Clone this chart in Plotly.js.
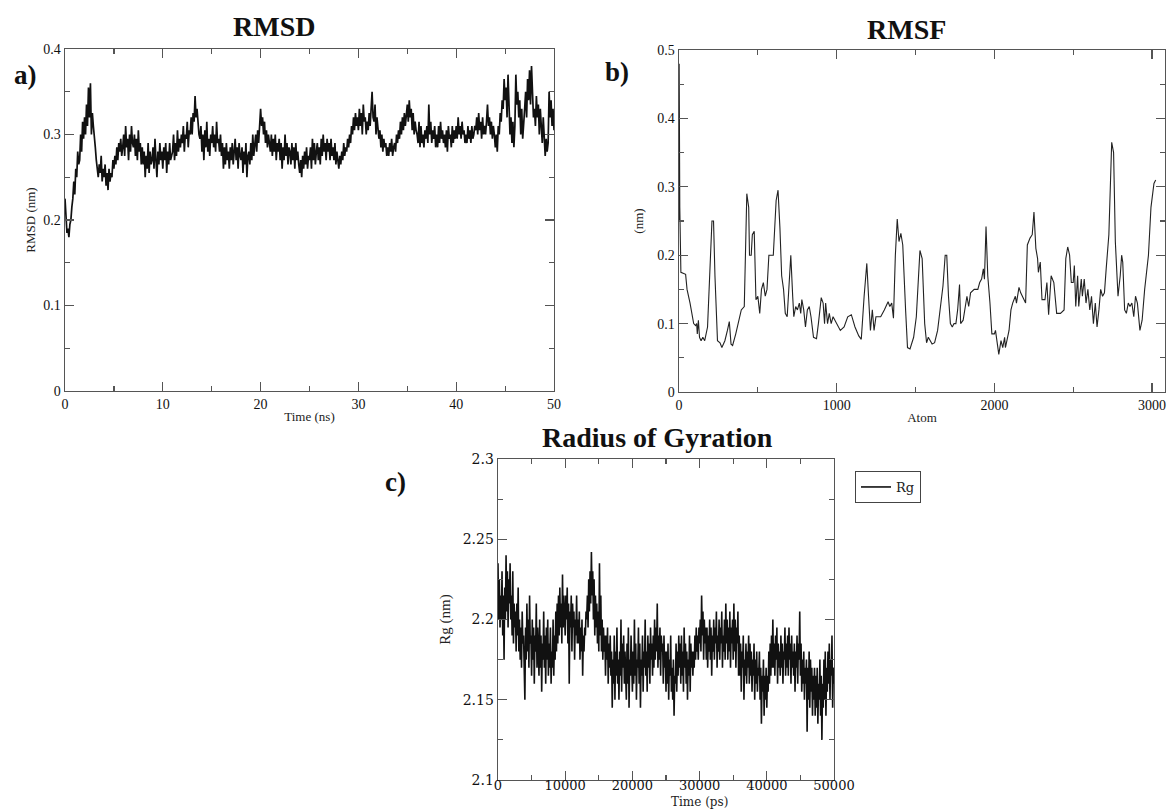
<!DOCTYPE html>
<html>
<head>
<meta charset="utf-8">
<script src="https://cdn.plot.ly/plotly-3.0.1.min.js"></script>
<style>
  html, body { margin: 0; padding: 0; background: #ffffff; }
  #chart { width: 1167px; height: 810px; }
</style>
</head>
<body>
<div id="chart"></div>
<script>
// ---------------- DATA ----------------
// a) RMSD (nm) sampled every 0.1 ns from 0 to 50 ns
const rmsdStepNs = 0.1;
const rmsdValues = [
  0.225,0.20,0.185,0.19,0.18,0.195,0.20,0.215,0.225,0.245,
  0.23,0.26,0.25,0.28,0.265,0.27,0.30,0.28,0.315,0.295,
  0.32,0.30,0.335,0.31,0.355,0.32,0.36,0.30,0.325,0.31,
  0.30,0.285,0.27,0.26,0.25,0.265,0.255,0.275,0.245,0.26,
  0.25,0.265,0.24,0.255,0.235,0.26,0.245,0.255,0.25,0.27,
  0.26,0.275,0.265,0.285,0.27,0.29,0.28,0.295,0.275,0.285,
  0.30,0.275,0.31,0.285,0.295,0.27,0.30,0.28,0.31,0.29,
  0.285,0.30,0.275,0.295,0.27,0.305,0.28,0.29,0.265,0.285,
  0.265,0.28,0.25,0.275,0.26,0.29,0.255,0.28,0.265,0.27,
  0.285,0.26,0.295,0.27,0.25,0.28,0.265,0.29,0.27,0.28,
  0.26,0.285,0.27,0.29,0.255,0.28,0.265,0.29,0.27,0.275,
  0.28,0.30,0.27,0.29,0.275,0.305,0.28,0.295,0.285,0.30,
  0.29,0.31,0.28,0.30,0.295,0.315,0.285,0.305,0.30,0.32,
  0.30,0.325,0.315,0.345,0.32,0.33,0.31,0.30,0.295,0.31,
  0.28,0.30,0.27,0.305,0.285,0.315,0.28,0.295,0.275,0.30,
  0.29,0.31,0.285,0.30,0.28,0.315,0.29,0.295,0.28,0.30,
  0.275,0.29,0.26,0.285,0.265,0.29,0.27,0.28,0.26,0.285,
  0.27,0.29,0.265,0.28,0.295,0.27,0.285,0.26,0.29,0.275,
  0.27,0.285,0.255,0.28,0.265,0.29,0.25,0.275,0.28,0.265,
  0.29,0.27,0.30,0.275,0.285,0.30,0.28,0.305,0.29,0.31,
  0.33,0.31,0.32,0.30,0.315,0.29,0.305,0.285,0.30,0.29,
  0.28,0.30,0.275,0.295,0.28,0.30,0.27,0.29,0.28,0.295,
  0.27,0.29,0.26,0.285,0.27,0.30,0.275,0.29,0.265,0.285,
  0.28,0.265,0.29,0.27,0.285,0.26,0.29,0.27,0.28,0.265,
  0.255,0.27,0.25,0.275,0.26,0.28,0.265,0.285,0.26,0.275,
  0.27,0.285,0.26,0.295,0.27,0.29,0.265,0.28,0.29,0.27,
  0.285,0.265,0.295,0.275,0.30,0.28,0.29,0.27,0.295,0.28,
  0.29,0.27,0.295,0.275,0.285,0.27,0.29,0.265,0.28,0.27,
  0.26,0.275,0.265,0.28,0.27,0.29,0.275,0.285,0.28,0.295,
  0.285,0.30,0.29,0.31,0.30,0.32,0.305,0.325,0.31,0.32,
  0.305,0.33,0.31,0.325,0.30,0.335,0.315,0.32,0.30,0.315,
  0.305,0.325,0.31,0.33,0.35,0.32,0.315,0.335,0.30,0.32,
  0.31,0.295,0.305,0.285,0.30,0.28,0.295,0.285,0.29,0.275,
  0.285,0.275,0.29,0.28,0.295,0.275,0.285,0.29,0.28,0.30,
  0.29,0.305,0.295,0.315,0.30,0.32,0.305,0.325,0.31,0.32,
  0.335,0.315,0.34,0.32,0.33,0.305,0.325,0.30,0.315,0.305,
  0.30,0.29,0.315,0.285,0.31,0.29,0.30,0.285,0.305,0.295,
  0.31,0.29,0.335,0.30,0.315,0.29,0.305,0.295,0.31,0.285,
  0.30,0.285,0.31,0.29,0.315,0.295,0.305,0.29,0.30,0.285,
  0.305,0.28,0.31,0.295,0.30,0.285,0.31,0.29,0.305,0.295,
  0.31,0.295,0.32,0.30,0.31,0.295,0.315,0.30,0.305,0.29,
  0.30,0.29,0.31,0.295,0.305,0.29,0.31,0.295,0.30,0.31,
  0.305,0.32,0.30,0.325,0.305,0.315,0.295,0.32,0.30,0.31,
  0.30,0.315,0.335,0.31,0.32,0.30,0.315,0.295,0.31,0.30,
  0.285,0.30,0.28,0.31,0.30,0.325,0.315,0.34,0.33,0.365,
  0.34,0.355,0.32,0.37,0.33,0.30,0.32,0.29,0.315,0.285,
  0.31,0.37,0.335,0.35,0.32,0.34,0.30,0.33,0.295,0.32,
  0.33,0.35,0.32,0.365,0.34,0.375,0.335,0.38,0.35,0.32,
  0.33,0.31,0.345,0.32,0.335,0.30,0.33,0.31,0.29,0.32,
  0.285,0.275,0.295,0.28,0.29,0.35,0.32,0.34,0.31,0.33,
  0.305
];

// b) RMSF (nm) per atom
const rmsfAtoms = [
  0,1,5,12,42,51,70,81,93,105,112,116,123,130,140,151,163,181,198,209,219,228,
  244,260,272,291,307,319,330,340,360,395,414,430,442,447,458,465,477,488,500,
  512,523,535,547,558,570,586,598,616,628,640,651,663,674,686,698,709,721,728,
  740,751,763,772,779,791,802,814,826,837,853,872,884,902,914,923,930,942,953,
  965,977,1000,1023,1047,1070,1093,1116,1140,1156,1174,1191,1202,1214,1226,1237,
  1249,1279,1302,1326,1337,1349,1360,1372,1384,1395,1407,1419,1437,1449,1465,
  1488,1505,1516,1528,1542,1558,1570,1581,1605,1621,1640,1663,1674,1688,1698,
  1709,1721,1733,1744,1756,1767,1779,1786,1802,1814,1826,1837,1849,1872,1895,
  1907,1919,1930,1937,1947,1958,1972,1984,2000,2007,2019,2028,2042,2053,2065,
  2070,2093,2105,2116,2133,2140,2156,2167,2186,2198,2209,2226,2240,2251,2263,
  2274,2279,2291,2302,2321,2333,2344,2360,2377,2395,2419,2442,2453,2465,2477,
  2488,2500,2507,2516,2528,2535,2551,2558,2570,2581,2593,2605,2616,2628,2640,
  2651,2663,2674,2686,2698,2709,2726,2744,2756,2767,2784,2798,2807,2814,2826,
  2837,2849,2860,2872,2884,2895,2907,2923,2937,2953,2977,2993,3012,3023
];
const rmsfValues = [
  0.25,0.48,0.27,0.175,0.172,0.15,0.13,0.115,0.10,0.097,0.10,0.085,0.105,0.08,0.075,0.08,0.075,0.095,0.20,0.25,0.25,0.17,
  0.075,0.072,0.065,0.075,0.09,0.103,0.07,0.068,0.085,0.12,0.125,0.29,0.27,0.20,0.20,0.23,0.235,0.135,0.14,
  0.115,0.15,0.16,0.14,0.15,0.20,0.20,0.20,0.28,0.295,0.24,0.17,0.15,0.115,0.11,0.155,0.20,0.14,0.11,
  0.125,0.12,0.13,0.115,0.135,0.12,0.095,0.12,0.125,0.11,0.08,0.078,0.10,0.138,0.13,0.10,0.13,0.10,0.115,
  0.10,0.11,0.10,0.09,0.095,0.11,0.113,0.095,0.082,0.077,0.14,0.188,0.14,0.09,0.12,0.09,
  0.11,0.11,0.12,0.132,0.125,0.13,0.108,0.20,0.253,0.22,0.232,0.215,0.12,0.065,0.063,
  0.08,0.11,0.16,0.207,0.195,0.10,0.072,0.08,0.07,0.072,0.09,0.13,0.155,0.20,0.20,
  0.14,0.10,0.095,0.10,0.10,0.12,0.157,0.10,0.105,0.12,0.14,0.125,0.145,0.15,0.15,
  0.16,0.165,0.18,0.165,0.242,0.17,0.13,0.085,0.085,0.09,0.07,0.055,0.075,0.065,0.08,
  0.065,0.09,0.12,0.13,0.14,0.13,0.153,0.145,0.135,0.13,0.215,0.225,0.23,0.263,0.21,
  0.195,0.175,0.19,0.135,0.135,0.16,0.113,0.17,0.16,0.115,0.115,0.12,0.195,0.212,0.20,
  0.16,0.16,0.185,0.125,0.17,0.125,0.165,0.14,0.165,0.13,0.15,0.12,0.14,0.10,0.13,
  0.095,0.12,0.15,0.14,0.145,0.18,0.23,0.365,0.35,0.22,0.14,0.17,0.20,0.19,0.12,
  0.115,0.13,0.125,0.13,0.11,0.14,0.13,0.09,0.105,0.15,0.20,0.27,0.305,0.31
];

// c) Radius of gyration (nm) sampled every 100 ps from 0 to 50000 ps
const rgStepPs = 100;
const rgValues = [
  2.235,2.20,2.225,2.195,2.215,2.20,2.23,2.19,2.215,2.175,
  2.22,2.20,2.24,2.205,2.23,2.195,2.225,2.21,2.235,2.20,
  2.215,2.19,2.23,2.185,2.21,2.195,2.205,2.18,2.21,2.19,
  2.22,2.18,2.20,2.175,2.195,2.17,2.205,2.185,2.19,2.165,
  2.15,2.195,2.175,2.21,2.18,2.20,2.17,2.215,2.185,2.19,
  2.165,2.20,2.175,2.195,2.16,2.19,2.18,2.21,2.17,2.195,
  2.18,2.165,2.20,2.17,2.19,2.155,2.185,2.175,2.205,2.17,
  2.19,2.16,2.195,2.175,2.20,2.165,2.185,2.17,2.195,2.16,
  2.18,2.17,2.20,2.165,2.19,2.175,2.205,2.18,2.21,2.185,
  2.215,2.19,2.22,2.195,2.21,2.185,2.228,2.195,2.215,2.20,
  2.19,2.215,2.20,2.22,2.185,2.21,2.16,2.205,2.195,2.215,
  2.18,2.21,2.195,2.205,2.175,2.20,2.19,2.215,2.185,2.20,
  2.185,2.205,2.175,2.195,2.18,2.20,2.165,2.19,2.18,2.195,
  2.19,2.205,2.20,2.215,2.195,2.225,2.205,2.23,2.21,2.242,
  2.215,2.23,2.20,2.225,2.19,2.215,2.195,2.21,2.185,2.205,
  2.18,2.235,2.19,2.215,2.18,2.20,2.175,2.195,2.18,2.19,
  2.165,2.19,2.175,2.195,2.16,2.185,2.17,2.19,2.165,2.18,
  2.145,2.175,2.16,2.19,2.15,2.18,2.165,2.195,2.16,2.175,
  2.15,2.18,2.165,2.20,2.155,2.185,2.17,2.19,2.16,2.18,
  2.165,2.15,2.185,2.16,2.195,2.145,2.175,2.165,2.19,2.17,
  2.155,2.18,2.16,2.20,2.165,2.185,2.15,2.175,2.17,2.195,
  2.16,2.185,2.145,2.175,2.165,2.19,2.155,2.18,2.17,2.20,
  2.165,2.18,2.155,2.19,2.17,2.185,2.16,2.195,2.175,2.185,
  2.165,2.19,2.17,2.20,2.175,2.195,2.18,2.21,2.17,2.19,
  2.175,2.195,2.165,2.19,2.18,2.185,2.16,2.19,2.17,2.18,
  2.155,2.18,2.16,2.185,2.15,2.175,2.165,2.19,2.155,2.17,
  2.15,2.175,2.14,2.165,2.16,2.185,2.155,2.18,2.165,2.19,
  2.17,2.185,2.16,2.19,2.165,2.18,2.155,2.195,2.17,2.185,
  2.16,2.18,2.15,2.175,2.165,2.19,2.155,2.185,2.17,2.18,
  2.165,2.18,2.17,2.19,2.175,2.195,2.18,2.19,2.175,2.195,
  2.185,2.20,2.18,2.215,2.19,2.205,2.175,2.20,2.185,2.195,
  2.175,2.195,2.17,2.19,2.18,2.20,2.175,2.195,2.165,2.19,
  2.18,2.20,2.175,2.195,2.185,2.205,2.17,2.19,2.18,2.20,
  2.175,2.195,2.185,2.205,2.17,2.19,2.18,2.20,2.175,2.21,
  2.185,2.20,2.175,2.195,2.18,2.205,2.17,2.195,2.185,2.20,
  2.175,2.21,2.18,2.20,2.17,2.195,2.185,2.205,2.165,2.19,
  2.165,2.185,2.155,2.18,2.17,2.19,2.15,2.175,2.165,2.185,
  2.16,2.18,2.17,2.19,2.16,2.185,2.165,2.18,2.155,2.175,
  2.165,2.185,2.15,2.175,2.16,2.18,2.155,2.17,2.165,2.18,
  2.15,2.17,2.135,2.165,2.155,2.175,2.14,2.165,2.15,2.17,
  2.145,2.165,2.155,2.18,2.16,2.185,2.165,2.19,2.17,2.20,
  2.17,2.185,2.165,2.19,2.175,2.195,2.16,2.185,2.17,2.18,
  2.165,2.19,2.17,2.185,2.16,2.18,2.175,2.195,2.165,2.185,
  2.17,2.19,2.165,2.195,2.175,2.185,2.16,2.19,2.17,2.18,
  2.165,2.185,2.155,2.18,2.17,2.19,2.16,2.185,2.175,2.205,
  2.165,2.185,2.155,2.175,2.16,2.18,2.15,2.17,2.16,2.175,
  2.13,2.17,2.15,2.18,2.145,2.175,2.155,2.17,2.14,2.165,
  2.15,2.17,2.14,2.165,2.145,2.17,2.135,2.16,2.15,2.175,
  2.14,2.165,2.125,2.16,2.145,2.175,2.15,2.18,2.14,2.17,
  2.155,2.18,2.16,2.185,2.15,2.175,2.165,2.19,2.145,2.17,
  2.16
];

// tick labels / titles
const panelTitles = ["RMSD", "RMSF", "Radius of Gyration"];
const panelLetters = ["a)", "b)", "c)"];
const legendName = "Rg";

// ---------------- BUILD ----------------
const rmsdTime = rmsdValues.map((_, i) => +(i * rmsdStepNs).toFixed(2));
const rgTime = rgValues.map((_, i) => i * rgStepPs);

const W = 1167, H = 810;
const px = v => v / W;
const py = v => 1 - v / H;

const lineCol = '#111111';
const axCol = '#555555';
const serif = 'Liberation Serif, Times New Roman, serif';
const dejavu = 'DejaVu Serif, serif';

function axis(opts) {
  return Object.assign({
    showline: true, mirror: 'allticks', linecolor: axCol, linewidth: 1.4,
    ticks: 'inside', ticklen: 9, tickwidth: 1.3, tickcolor: axCol,
    showgrid: false, zeroline: false, fixedrange: true,
    tickfont: { family: serif, size: 14, color: '#111' }
  }, opts);
}

const traces = [
  { x: rmsdTime, y: rmsdValues, xaxis: 'x', yaxis: 'y', type: 'scatter', mode: 'lines',
    line: { color: lineCol, width: 1.7 }, showlegend: false, name: 'RMSD' },
  { x: rmsfAtoms, y: rmsfValues, xaxis: 'x2', yaxis: 'y2', type: 'scatter', mode: 'lines',
    line: { color: '#222', width: 1.1 }, showlegend: false, name: 'RMSF' },
  { x: rgTime, y: rgValues, xaxis: 'x3', yaxis: 'y3', type: 'scatter', mode: 'lines',
    line: { color: lineCol, width: 1.6 }, showlegend: true, name: legendName }
];

const minorSmall = (d) => ({ dtick: d, ticks: 'inside', ticklen: 5, tickwidth: 1.2, tickcolor: axCol, showgrid: false });

const layout = {
  width: W, height: H, autosize: false,
  margin: { l: 0, r: 0, t: 0, b: 0, pad: 0 },
  paper_bgcolor: '#ffffff', plot_bgcolor: '#ffffff',
  font: { family: serif, color: '#222' },
  showlegend: true,
  legend: {
    x: px(855), y: py(471), xanchor: 'left', yanchor: 'top',
    bordercolor: '#444', borderwidth: 1, bgcolor: '#ffffff',
    font: { family: dejavu, size: 13, color: '#222' },
    itemwidth: 30, tracegroupgap: 0
  },
  xaxis: axis({ domain: [px(65), px(554)], range: [0, 50], dtick: 10, anchor: 'y',
    minor: minorSmall(5),
    title: { text: 'Time (ns)', font: { family: serif, size: 13, color: '#222' }, standoff: 0 } }),
  yaxis: axis({ domain: [py(391), py(49)], range: [0, 0.4], dtick: 0.1, anchor: 'x',
    minor: minorSmall(0.05),
    title: { text: 'RMSD (nm)', font: { family: serif, size: 13, color: '#222' }, standoff: 4 } }),
  xaxis2: axis({ domain: [px(679), px(1165)], range: [0, 3082], dtick: 1000, anchor: 'y2',
    minor: minorSmall(500),
    title: { text: 'Atom', font: { family: serif, size: 13, color: '#222' }, standoff: 0 } }),
  yaxis2: axis({ domain: [py(392), py(50)], range: [0, 0.5], dtick: 0.1, anchor: 'x2',
    minor: minorSmall(0.05),
    title: { text: '(nm)', font: { family: serif, size: 13, color: '#222' }, standoff: 10 } }),
  xaxis3: axis({ domain: [px(498), px(834)], range: [0, 50000], dtick: 10000, anchor: 'y3',
    tickformat: 'd', exponentformat: 'none', separatethousands: false, ticklabelstandoff: -7,
    minor: minorSmall(5000), tickfont: { family: dejavu, size: 13, color: '#111' } }),
  yaxis3: axis({ domain: [py(780), py(459)], range: [2.1, 2.3], dtick: 0.05, anchor: 'x3',
    minor: minorSmall(0.025), tickfont: { family: dejavu, size: 14, color: '#111' },
    title: { text: 'Rg (nm)', font: { family: serif, size: 15, color: '#222' }, standoff: 8 } }),
  annotations: [
    { text: '<b>' + panelTitles[0] + '</b>', x: px(274), y: py(27), xref: 'paper', yref: 'paper',
      xanchor: 'center', yanchor: 'middle', showarrow: false, font: { family: serif, size: 28, color: '#111' } },
    { text: '<b>' + panelTitles[1] + '</b>', x: px(906), y: py(30), xref: 'paper', yref: 'paper',
      xanchor: 'center', yanchor: 'middle', showarrow: false, font: { family: serif, size: 28, color: '#111' } },
    { text: '<b>' + panelTitles[2] + '</b>', x: px(657), y: py(437), xref: 'paper', yref: 'paper',
      xanchor: 'center', yanchor: 'middle', showarrow: false, font: { family: serif, size: 28, color: '#111' } },
    { text: '<b>' + panelLetters[0] + '</b>', x: px(25), y: py(75), xref: 'paper', yref: 'paper',
      xanchor: 'center', yanchor: 'middle', showarrow: false, font: { family: serif, size: 27, color: '#111' } },
    { text: '<b>' + panelLetters[1] + '</b>', x: px(617), y: py(72), xref: 'paper', yref: 'paper',
      xanchor: 'center', yanchor: 'middle', showarrow: false, font: { family: serif, size: 27, color: '#111' } },
    { text: '<b>' + panelLetters[2] + '</b>', x: px(395), y: py(482), xref: 'paper', yref: 'paper',
      xanchor: 'center', yanchor: 'middle', showarrow: false, font: { family: serif, size: 27, color: '#111' } },
    { text: 'Time (ps)', x: 30000, y: 0, xref: 'x3', yref: 'paper',
      xanchor: 'center', yanchor: 'bottom', showarrow: false, borderpad: 0,
      font: { family: dejavu, size: 12, color: '#222' } }
  ]
};

Plotly.newPlot('chart', traces, layout, { staticPlot: true, displayModeBar: false });
</script>
</body>
</html>
